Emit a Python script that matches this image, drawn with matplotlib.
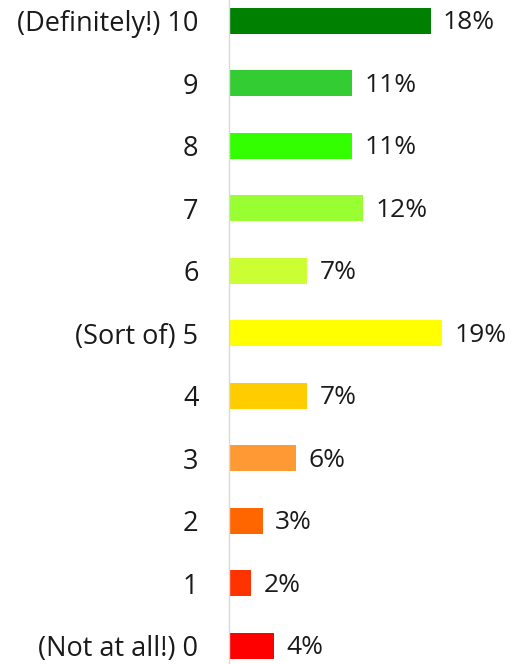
import matplotlib
matplotlib.use("Agg")
import matplotlib.pyplot as plt

categories = ["(Not at all!) 0", "1", "2", "3", "4", "(Sort of) 5", "6", "7", "8", "9", "(Definitely!) 10"]
values = [4, 2, 3, 6, 7, 19, 7, 12, 11, 11, 18]
colors = ["#FF0000", "#FF3300", "#FF6600", "#FF9933", "#FFCC00", "#FFFF00",
          "#CCFF33", "#99FF33", "#33FF00", "#33CC33", "#008000"]

plt.rcParams['font.family'] = ['Open Sans', 'DejaVu Sans']
fig = plt.figure(figsize=(5.17, 6.64), dpi=100)
W, H = 517, 664
left_px, right_px = 229, 500
top_px, bot_px = -10.5, 677
ax = fig.add_axes([left_px / W, (H - bot_px) / H, (right_px - left_px) / W, (bot_px - top_px) / H])
ys = list(range(len(categories)))
ax.barh(ys, values, height=0.42, color=colors, edgecolor='none')
ax.set_xlim(0, 24.2)
ax.set_ylim(-0.5, 10.5)
for y, v in zip(ys, values):
    ax.text(v + 1.1, y - 0.03, f"{v}%", va='center', ha='left', fontsize=19, color='#1a1a1a')
ax.set_yticks(ys)
ax.set_yticklabels(categories, fontsize=19.5, color='#1a1a1a')
ax.tick_params(axis='y', length=0, pad=22)
ax.set_xticks([])
for s in ['top', 'right', 'bottom']:
    ax.spines[s].set_visible(False)
ax.spines['left'].set_color('#d9d9d9')
ax.spines['left'].set_linewidth(1)
fig.savefig("out.png", dpi=100)
